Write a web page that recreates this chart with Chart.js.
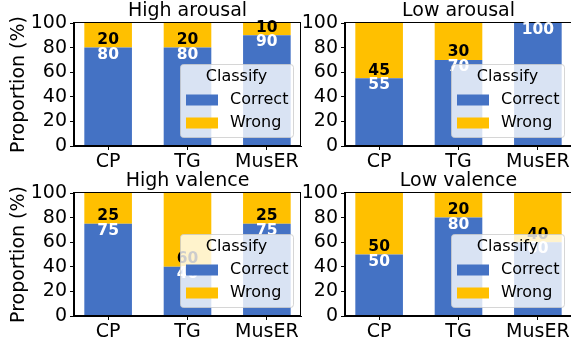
<!DOCTYPE html>
<html>
<head>
<meta charset="utf-8">
<script src="https://cdn.jsdelivr.net/npm/chart.js@4.4.1/dist/chart.umd.min.js"></script>
<style>
  html, body { margin: 0; padding: 0; background: #fff; overflow: hidden; }
  #wrap { position: relative; width: 571px; height: 343px; overflow: hidden; }
  canvas { position: absolute; left: 0; top: 0; }
</style>
</head>
<body>
<div id="wrap">
  <canvas id="c0" width="600" height="343"></canvas>
  <canvas id="c1" width="600" height="343"></canvas>
  <canvas id="c2" width="600" height="343"></canvas>
  <canvas id="c3" width="600" height="343"></canvas>
</div>
<script>
const categories = ["CP", "TG", "MusER"];
const yTicks = [0, 20, 40, 60, 80, 100];
const seriesNames = ["Correct", "Wrong"];

const highArousalCorrect = [80, 80, 90];
const highArousalWrong = [20, 20, 10];
const lowArousalCorrect = [55, 70, 100];
const lowArousalWrong = [45, 30, 0];
const highValenceCorrect = [75, 40, 75];
const highValenceWrong = [25, 60, 25];
const lowValenceCorrect = [50, 80, 60];
const lowValenceWrong = [50, 20, 40];

const BLUE = "#4472C4";
const YELLOW = "#FFC000";
const FONT = "'DejaVu Sans', sans-serif";
const W = 600, H = 343;

// full box around the axes, like matplotlib spines
const framePlugin = {
  id: "frame",
  afterDatasetsDraw(chart) {
    const a = chart.chartArea, ctx = chart.ctx;
    ctx.save();
    ctx.strokeStyle = "#000";
    ctx.lineWidth = 1;
    const l = Math.round(a.left) - 0.5, r = Math.round(a.right) - 0.5;
    const t = Math.round(a.top) - 0.5, b = Math.round(a.bottom) - 0.5;
    ctx.strokeRect(l, t, r - l, b - t);
    ctx.restore();
  }
};

// numbers written on the bars
const labelPlugin = {
  id: "barLabels",
  afterDatasetsDraw(chart) {
    const ctx = chart.ctx;
    const xs = chart.scales.x, ys = chart.scales.y;
    const correct = chart.data.datasets[0].data;
    const wrong = chart.data.datasets[1].data;
    ctx.save();
    ctx.font = "bold 15.5px " + FONT;
    ctx.textAlign = "center";
    ctx.textBaseline = "middle";
    correct.forEach((d, i) => {
      const x = xs.getPixelForValue(d.x);
      const yb = ys.getPixelForValue(d.y);
      if (d.y > 0) {
        ctx.fillStyle = "#fff";
        ctx.fillText(String(d.y), x, yb + 7);
      }
      if (wrong[i].y > 0) {
        ctx.fillStyle = "#000";
        ctx.fillText(String(wrong[i].y), x, yb - 7.5);
      }
    });
    ctx.restore();
  }
};

// semi-transparent legend in the lower right of the axes
const legendPlugin = {
  id: "boxLegend",
  afterDraw(chart) {
    const ctx = chart.ctx, a = chart.chartArea;
    const bw = 113, bh = 73;
    const right = Math.round(a.right) - 8, bottom = Math.round(a.bottom) - 9;
    const left = right - bw, top = bottom - bh;
    ctx.save();
    ctx.beginPath();
    ctx.roundRect(left + 0.5, top + 0.5, bw, bh, 3);
    ctx.fillStyle = "rgba(255,255,255,0.8)";
    ctx.fill();
    ctx.strokeStyle = "rgba(204,204,204,0.8)";
    ctx.lineWidth = 1;
    ctx.stroke();

    ctx.font = "16px " + FONT;
    ctx.textBaseline = "middle";
    ctx.fillStyle = "#000";
    ctx.textAlign = "center";
    ctx.fillText("Classify", left + bw / 2, top + 13);
    ctx.textAlign = "left";
    const cols = [BLUE, YELLOW];
    seriesNames.forEach((name, k) => {
      const sy = top + 30.5 + k * 23;
      ctx.fillStyle = cols[k];
      ctx.fillRect(left + 6, sy, 32, 11);
      ctx.fillStyle = "#000";
      ctx.fillText(name, left + 50, sy + 5.5);
    });
    ctx.restore();
  }
};

function makeChart(id, title, correct, wrong, area, showYTitle) {
  const tickFont = { family: FONT, size: 19 };
  new Chart(document.getElementById(id), {
    type: "bar",
    data: {
      datasets: [
        {
          label: seriesNames[0],
          data: correct.map((v, i) => ({ x: i, y: v })),
          backgroundColor: BLUE,
          categoryPercentage: 1,
          barPercentage: 0.6
        },
        {
          label: seriesNames[1],
          data: wrong.map((v, i) => ({ x: i, y: v })),
          backgroundColor: YELLOW,
          categoryPercentage: 1,
          barPercentage: 0.6
        }
      ]
    },
    options: {
      responsive: false,
      animation: false,
      events: [],
      layout: {
        padding: {
          left: area.left - 74,
          top: area.top - 23,
          right: W - area.right,
          bottom: H - area.bottom - 27
        }
      },
      plugins: {
        legend: { display: false },
        tooltip: { enabled: false },
        title: {
          display: true,
          text: title,
          fullSize: false,
          color: "#000",
          font: { family: FONT, size: 19, weight: "normal", lineHeight: 1.2 },
          padding: { top: 0, bottom: 0.2 }
        }
      },
      scales: {
        x: {
          type: "linear",
          stacked: true,
          offset: false,
          bounds: "data",
          min: -0.43,
          max: 2.43,
          afterBuildTicks: s => { s.ticks = categories.map((c, i) => ({ value: i })); },
          afterFit: s => { s.height = 27; },
          ticks: {
            callback: v => categories[v],
            color: "#000",
            font: tickFont,
            padding: 1,
            maxRotation: 0,
            autoSkip: false
          },
          grid: { offset: false, drawOnChartArea: false, tickLength: 4, tickColor: "#000" },
          border: { color: "#000" }
        },
        y: {
          stacked: true,
          min: 0,
          max: 100,
          afterBuildTicks: s => { s.ticks = yTicks.map(v => ({ value: v })); },
          afterFit: s => { s.width = 74; },
          ticks: { color: "#000", font: tickFont, padding: 3, autoSkip: false },
          grid: { drawOnChartArea: false, tickLength: 4, tickColor: "#000" },
          border: { color: "#000" },
          title: {
            display: showYTitle,
            text: "Proportion (%)",
            color: "#000",
            font: { family: FONT, size: 19 },
            padding: { top: 7.5, bottom: 0 }
          }
        }
      }
    },
    plugins: [framePlugin, labelPlugin, legendPlugin]
  });
}

makeChart("c0", "High arousal", highArousalCorrect, highArousalWrong,
  { left: 74, right: 301, top: 23, bottom: 146 }, true);
makeChart("c1", "Low arousal", lowArousalCorrect, lowArousalWrong,
  { left: 345, right: 572, top: 23, bottom: 146 }, false);
makeChart("c2", "High valence", highValenceCorrect, highValenceWrong,
  { left: 74, right: 301, top: 193, bottom: 316 }, true);
makeChart("c3", "Low valence", lowValenceCorrect, lowValenceWrong,
  { left: 345, right: 572, top: 193, bottom: 316 }, false);
</script>
</body>
</html>
